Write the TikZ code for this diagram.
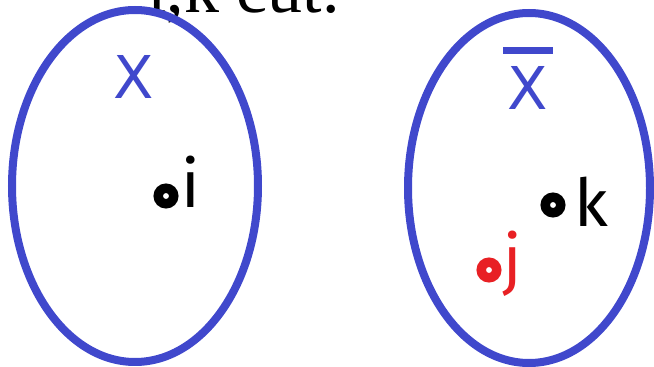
\documentclass[tikz,border=0pt]{standalone}
\usepackage{fontspec}
\setmainfont{Liberation Serif}
\setsansfont{Fira Sans}
\newfontfamily\setnamefont{DejaVu Sans}
\usepackage{tikz}
\usetikzlibrary{positioning, shapes.geometric}
\definecolor{SetBlue}{RGB}{64,72,204}
\definecolor{CutRed}{RGB}{232,32,36}
% complement bar over a set name
\newcommand{\setbar}[1]{\vbox{\offinterlineskip\setbox0\hbox{#1}\hbox to\wd0{\hss\rule{50pt}{7pt}\hss}\vskip 13pt\box0}}

\begin{document}
\begin{tikzpicture}[x=1pt, y=1pt,
    setshape/.style={ellipse, draw=SetBlue, line width=8pt, inner sep=0pt},
    setname/.style={text=SetBlue, font=\setnamefont\fontsize{59}{59}\selectfont, inner sep=0pt, anchor=base},
    ptmark/.style={circle, draw=#1, line width=9.5pt, minimum size=15.5pt, inner sep=0pt},
    ptmark/.default=black,
    ptname/.style={text=#1, font=\sffamily\fontsize{66}{66}\selectfont, inner sep=0pt, anchor=base},
    ptname/.default=black
]
\useasboundingbox (0,0) rectangle (654,367);
\node[font=\fontsize{70}{70}\selectfont, anchor=base west, inner sep=0pt] (title) at (147,354) {i,k cut.};

% the two sets
\node[setshape, minimum width=246pt, minimum height=352pt] (setX) at (135,181) {};
\node[setshape, minimum width=242pt, minimum height=350pt] (setXc) at (529,179) {};
\node[setname] (nameX) at (134,268) {X};
\node[setname] (nameXc) at (528,257) {\setbar{X}};

% points
\node[ptmark] (pti) at (166,171) {};
\node[ptname] (labi) at (191,159) {i};
\node[ptmark] (ptk) at (553,162) {};
\node[ptname] (labk) at (591,140) {k};
\node[ptmark=CutRed] (ptj) at (489,97) {};
\node[ptname=CutRed] (labj) at (513,84) {j};
\end{tikzpicture}
\end{document}
